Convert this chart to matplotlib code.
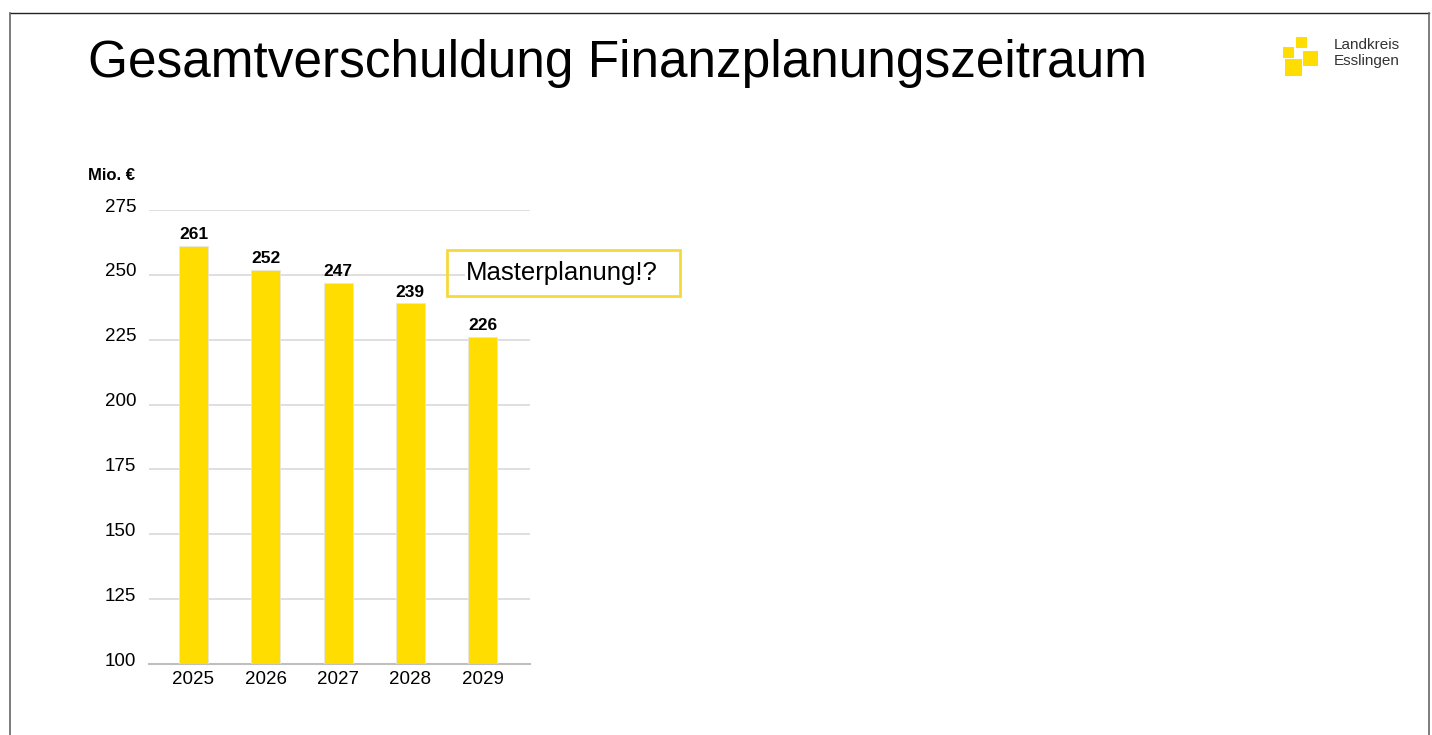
import matplotlib
matplotlib.use("Agg")
import matplotlib.pyplot as plt
from matplotlib.patches import Rectangle
from matplotlib.lines import Line2D
from matplotlib.transforms import ScaledTranslation

plt.rcParams['font.family'] = ['Liberation Sans', 'DejaVu Sans']

years = ["2025", "2026", "2027", "2028", "2029"]
values = [261, 252, 247, 239, 226]
yticks = [100, 125, 150, 175, 200, 225, 250, 275]
title = "Gesamtverschuldung Finanzplanungszeitraum"
unit_label = "Mio. €"
note = "Masterplanung!?"
logo_lines = ["Landkreis", "Esslingen"]

W, H = 1432, 735
YELLOW = "#FFDD00"
fig = plt.figure(figsize=(W/100, H/100), dpi=100)

def fx(px): return px / W
def fy(py): return 1 - py / H

# slide border
fig.add_artist(Line2D([fx(10), fx(1429)], [fy(13), fy(13)], color="#222222", lw=1.0))
fig.add_artist(Line2D([fx(10), fx(10)], [fy(13), 0], color="#666666", lw=1.2))
fig.add_artist(Line2D([fx(1429), fx(1429)], [fy(13), 0], color="#666666", lw=1.2))

# title
fig.text(fx(88), fy(64), title, fontsize=37, ha="left", va="center", color="black")

# logo
for (x0, y0, x1, y1) in [(1296, 37, 1307, 47.5), (1283, 47, 1294, 58), (1303, 51, 1318, 66), (1285, 59, 1302, 76)]:
    fig.add_artist(Rectangle((fx(x0), fy(y1)), fx(x1) - fx(x0), fy(y0) - fy(y1),
                             facecolor=YELLOW, edgecolor="none", transform=fig.transFigure))
fig.text(fx(1334), fy(45), logo_lines[0], fontsize=11, ha="left", va="center", color="#333333")
fig.text(fx(1334), fy(61), logo_lines[1], fontsize=11, ha="left", va="center", color="#333333")

# axes
ax = fig.add_axes([fx(149), fy(664), fx(530) - fx(149), fy(210) - fy(664)])
x = list(range(len(years)))
ax.bar(x, values, width=0.40, color=YELLOW, edgecolor="#e6e6e6", linewidth=0.6, zorder=3)
ax.set_xlim(-0.615, 4.655)
ax.set_ylim(100, 275)
ax.set_yticks(yticks)
ax.set_xticks(x)
ax.set_xticklabels(years)
ax.tick_params(axis="both", length=0, labelsize=13.5, colors="black")
ax.tick_params(axis="y", pad=9)
ax.tick_params(axis="x", pad=5)
shift = ScaledTranslation(0, 5/100, fig.dpi_scale_trans)
for lab in ax.get_yticklabels():
    lab.set_transform(lab.get_transform() + shift)
ax.grid(axis="y", color="#d9d9d9", lw=1.2, zorder=0)
for s in ["top", "right", "left"]:
    ax.spines[s].set_visible(False)
ax.spines["bottom"].set_color("#bfbfbf")
ax.spines["bottom"].set_linewidth(1.5)
ax.set_facecolor("none")
for xi, v in zip(x, values):
    ax.text(xi, v + 1.5, str(v), ha="center", va="bottom", fontsize=12.5, fontweight="bold", color="black")

fig.text(fx(88), fy(175), unit_label, fontsize=12, fontweight="bold", ha="left", va="center")

# note box
fig.add_artist(Rectangle((fx(447), fy(296)), fx(680) - fx(447), fy(250) - fy(296),
                         facecolor="none", edgecolor="#F5D93C", lw=2.0, transform=fig.transFigure, zorder=5))
fig.text(fx(466), fy(273), note, fontsize=18.5, ha="left", va="center", color="black", zorder=6,
         bbox=dict(facecolor="white", edgecolor="none", pad=1))

fig.savefig("out.png", dpi=100)
